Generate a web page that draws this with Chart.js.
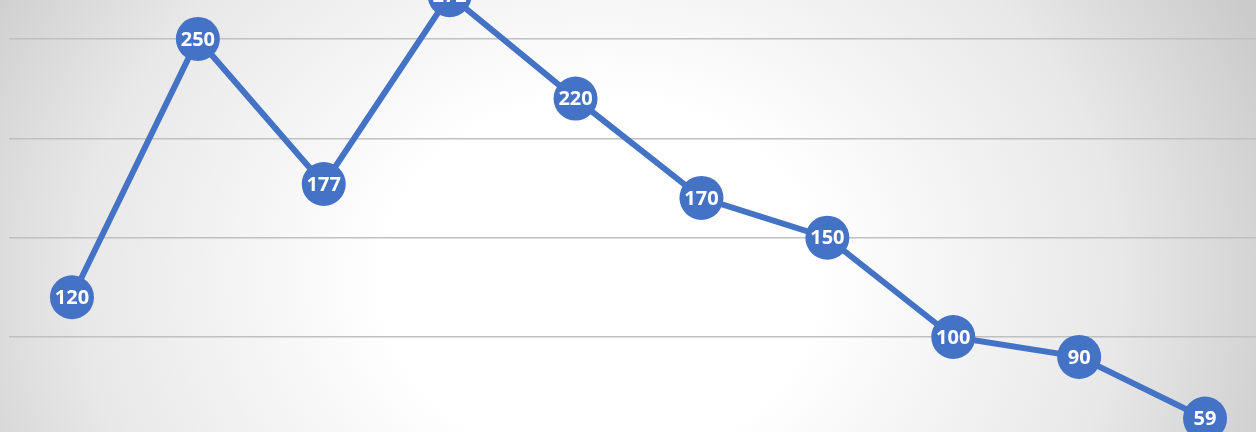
<!DOCTYPE html>
<html>
<head>
<meta charset="utf-8">
<script src="https://cdn.jsdelivr.net/npm/chart.js@4/dist/chart.umd.min.js"></script>
<style>
    html, body { margin: 0; padding: 0; }
    #wrap {
        width: 1256px; height: 432px; overflow: hidden; position: relative;
        background: radial-gradient(ellipse 720px 600px at 600px 280px, #ffffff 0%, #ffffff 30%, #e8e8e8 72%, #cbcbcb 100%);
    }
    #box { position: absolute; left: 0; top: 0; width: 1268px; height: 432px; }
</style>
</head>
<body>
<div id="wrap"><div id="box"><canvas id="myChart"></canvas></div></div>
<script>
const CATEGORIES = ['1', '2', '3', '4', '5', '6', '7', '8', '9', '10'];
const VALUES = [120, 250, 177, 272, 220, 170, 150, 100, 90, 59];
const Y_TICKS = [100, 150, 200, 250];
const BLUE = '#4472C4';

// Writes the value in white on each marker
const pointLabels = {
    id: 'pointLabels',
    afterDatasetsDraw(chart) {
        const ctx = chart.ctx;
        const meta = chart.getDatasetMeta(0);
        ctx.save();
        ctx.fillStyle = '#ffffff';
        ctx.font = 'bold 20px "Open Sans", "Liberation Sans", sans-serif';
        ctx.textAlign = 'center';
        ctx.textBaseline = 'middle';
        meta.data.forEach((pt, i) => {
            ctx.fillText(String(VALUES[i]), pt.x, pt.y + 1);
        });
        ctx.restore();
    }
};

const ctx = document.getElementById('myChart').getContext('2d');
new Chart(ctx, {
    type: 'line',
    data: {
        labels: CATEGORIES,
        datasets: [{
            data: VALUES,
            borderColor: BLUE,
            borderWidth: 6,
            backgroundColor: BLUE,
            pointBackgroundColor: BLUE,
            pointBorderColor: BLUE,
            pointBorderWidth: 0,
            pointRadius: 22,
            pointHoverRadius: 22,
            tension: 0,
            clip: false
        }]
    },
    options: {
        responsive: true,
        maintainAspectRatio: false,
        animation: false,
        layout: { autoPadding: false, padding: { left: 9, right: 0, top: 0, bottom: 0 } },
        plugins: { legend: { display: false }, tooltip: { enabled: false } },
        scales: {
            x: {
                offset: true,
                display: false
            },
            y: {
                min: 52.2,
                max: 269.6,
                afterBuildTicks: (axis) => { axis.ticks = Y_TICKS.map(v => ({ value: v })); },
                grid: { color: '#c0c0c0', lineWidth: 1.5, drawTicks: false },
                border: { display: false },
                ticks: { display: false, padding: 0 }
            }
        }
    },
    plugins: [pointLabels]
});
</script>
</body>
</html>
